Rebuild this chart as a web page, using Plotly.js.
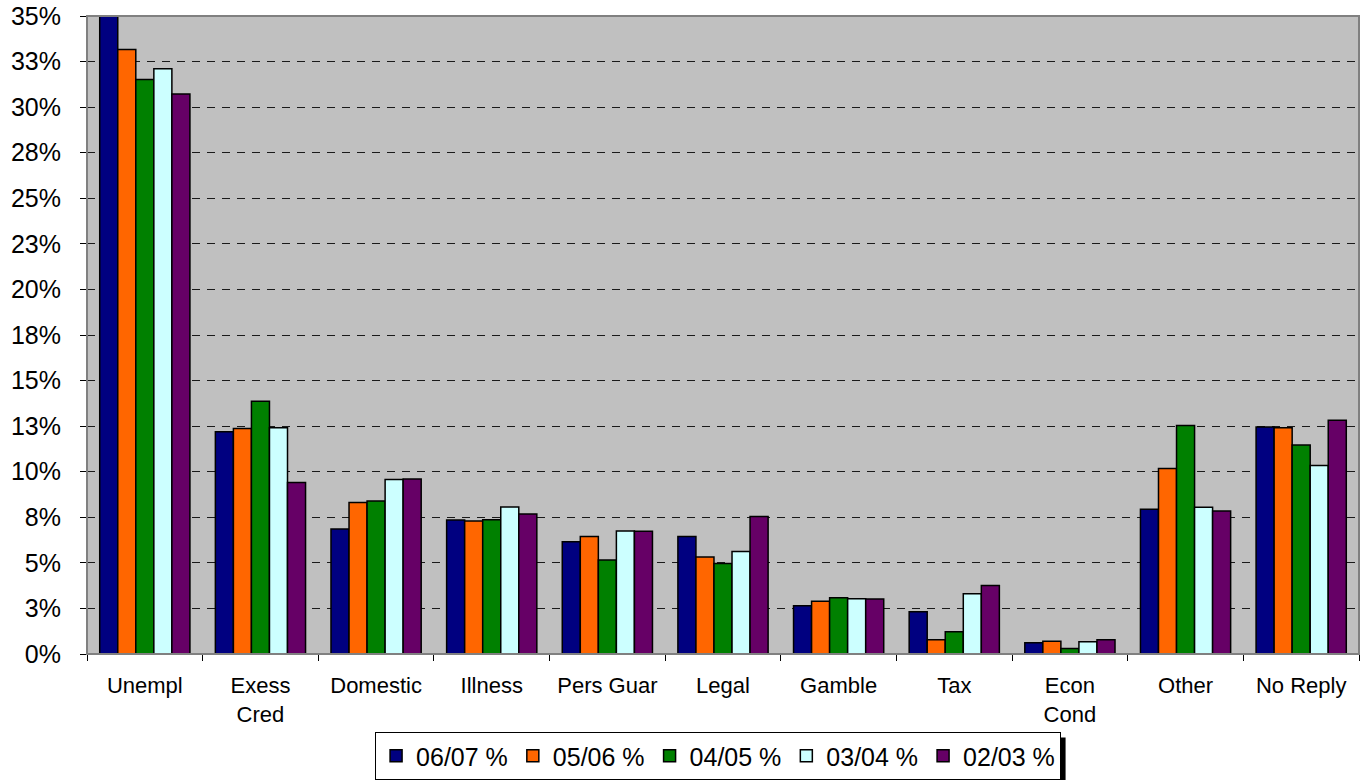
<!DOCTYPE html>
<html>
<head>
<meta charset="utf-8">
<script src="https://cdn.plot.ly/plotly-3.0.1.min.js"></script>
<style>html,body{margin:0;padding:0;background:#fff;}#chart{width:1360px;height:780px;}</style>
</head>
<body>
<div id="chart"></div>
<script>
const categories = ['Unempl', 'Exess<br>Cred', 'Domestic', 'Illness', 'Pers Guar', 'Legal', 'Gamble', 'Tax', 'Econ<br>Cond', 'Other', 'No Reply'];
const s0607 = [35.4, 12.19, 6.86, 7.35, 6.16, 6.44, 2.65, 2.32, 0.62, 7.94, 12.45];
const s0506 = [33.16, 12.37, 8.31, 7.30, 6.44, 5.32, 2.90, 0.78, 0.70, 10.18, 12.41];
const s0405 = [31.51, 13.87, 8.40, 7.37, 5.15, 4.96, 3.09, 1.22, 0.30, 12.54, 11.46];
const s0304 = [32.10, 12.41, 9.57, 8.07, 6.75, 5.62, 3.03, 3.31, 0.67, 8.05, 10.34];
const s0203 = [30.72, 9.41, 9.60, 7.68, 6.73, 7.54, 3.02, 3.76, 0.78, 7.85, 12.83];
const seriesNames = ['06/07 %', '05/06 %', '04/05 %', '03/04 %', '02/03 %'];
const seriesColors = ['#000080', '#FF6600', '#008000', '#CCFFFF', '#660066'];
const tickVals = [0, 2.5, 5, 7.5, 10, 12.5, 15, 17.5, 20, 22.5, 25, 27.5, 30, 32.5, 35];
const tickText = ['0%', '3%', '5%', '8%', '10%', '13%', '15%', '18%', '20%', '23%', '25%', '28%', '30%', '33%', '35%'];

const allSeries = [s0607, s0506, s0405, s0304, s0203];
const traces = allSeries.map((vals, i) => ({
  type: 'bar',
  name: seriesNames[i],
  x: categories,
  y: vals,
  marker: {color: seriesColors[i], line: {color: '#000000', width: 1.5}},
  hoverinfo: 'x+y'
}));

const L = 87, R = 1, T = 16, B = 126;
const layout = {
  width: 1360, height: 780,
  margin: {l: L, r: R, t: T, b: B, pad: 0},
  paper_bgcolor: '#ffffff',
  plot_bgcolor: '#C0C0C0',
  font: {family: 'Liberation Sans, Arial, sans-serif', color: '#000000'},
  barmode: 'group',
  bargap: 0.22,
  bargroupgap: 0,
  showlegend: true,
  legend: {
    orientation: 'h',
    xref: 'container', yref: 'container',
    x: 0.528, xanchor: 'center',
    y: 0.0615, yanchor: 'top',
    bgcolor: '#ffffff', bordercolor: '#000000', borderwidth: 1,
    font: {size: 25, color: '#000000'},
    itemwidth: 30,
    traceorder: 'normal'
  },
  xaxis: {
    type: 'category',
    tickson: 'boundaries',
    ticks: 'outside', ticklen: 6, tickcolor: '#000000', tickwidth: 1,
    showline: true, linecolor: '#000000', linewidth: 1,
    showgrid: false,
    tickfont: {size: 22, color: '#000000'},
    ticklabelstandoff: 12,
    fixedrange: true
  },
  yaxis: {
    range: [0, 35],
    tickvals: tickVals, ticktext: tickText,
    ticks: 'outside', ticklen: 6, tickcolor: '#000000', tickwidth: 1,
    showline: true, linecolor: '#000000', linewidth: 1,
    showgrid: true, gridcolor: '#1a1a1a', gridwidth: 1, griddash: '8px,7px',
    zeroline: false,
    tickfont: {size: 25, color: '#000000'},
    ticklabelstandoff: 14,
    fixedrange: true
  },
  shapes: [
    {type: 'rect', xref: 'paper', yref: 'paper', x0: 0, x1: 1, y0: 0, y1: 1,
     line: {color: '#808080', width: 2}, fillcolor: 'rgba(0,0,0,0)', layer: 'above'}
  ]
};

Plotly.newPlot('chart', traces, layout, {displayModeBar: false, staticPlot: true}).then(gd => {
  const bg = gd.querySelector('.legend .bg');
  if (!bg) return;
  const rb = bg.getBoundingClientRect();
  const rc = gd.getBoundingClientRect();
  const off = 5;
  const pw = 1360 - L - R, ph = 780 - T - B;
  const shapes = gd.layout.shapes.slice();
  shapes.push({type: 'rect', xref: 'x domain', yref: 'y domain',
    x0: (rb.left - rc.left + off - L) / pw,
    x1: (rb.right - rc.left + off - L) / pw,
    y0: 1 - (rb.bottom - rc.top + off - T) / ph,
    y1: 1 - (rb.top - rc.top + off - T) / ph,
    line: {width: 0}, fillcolor: '#000000', layer: 'above'});
  return Plotly.relayout(gd, {shapes: shapes});
});
</script>
</body>
</html>
